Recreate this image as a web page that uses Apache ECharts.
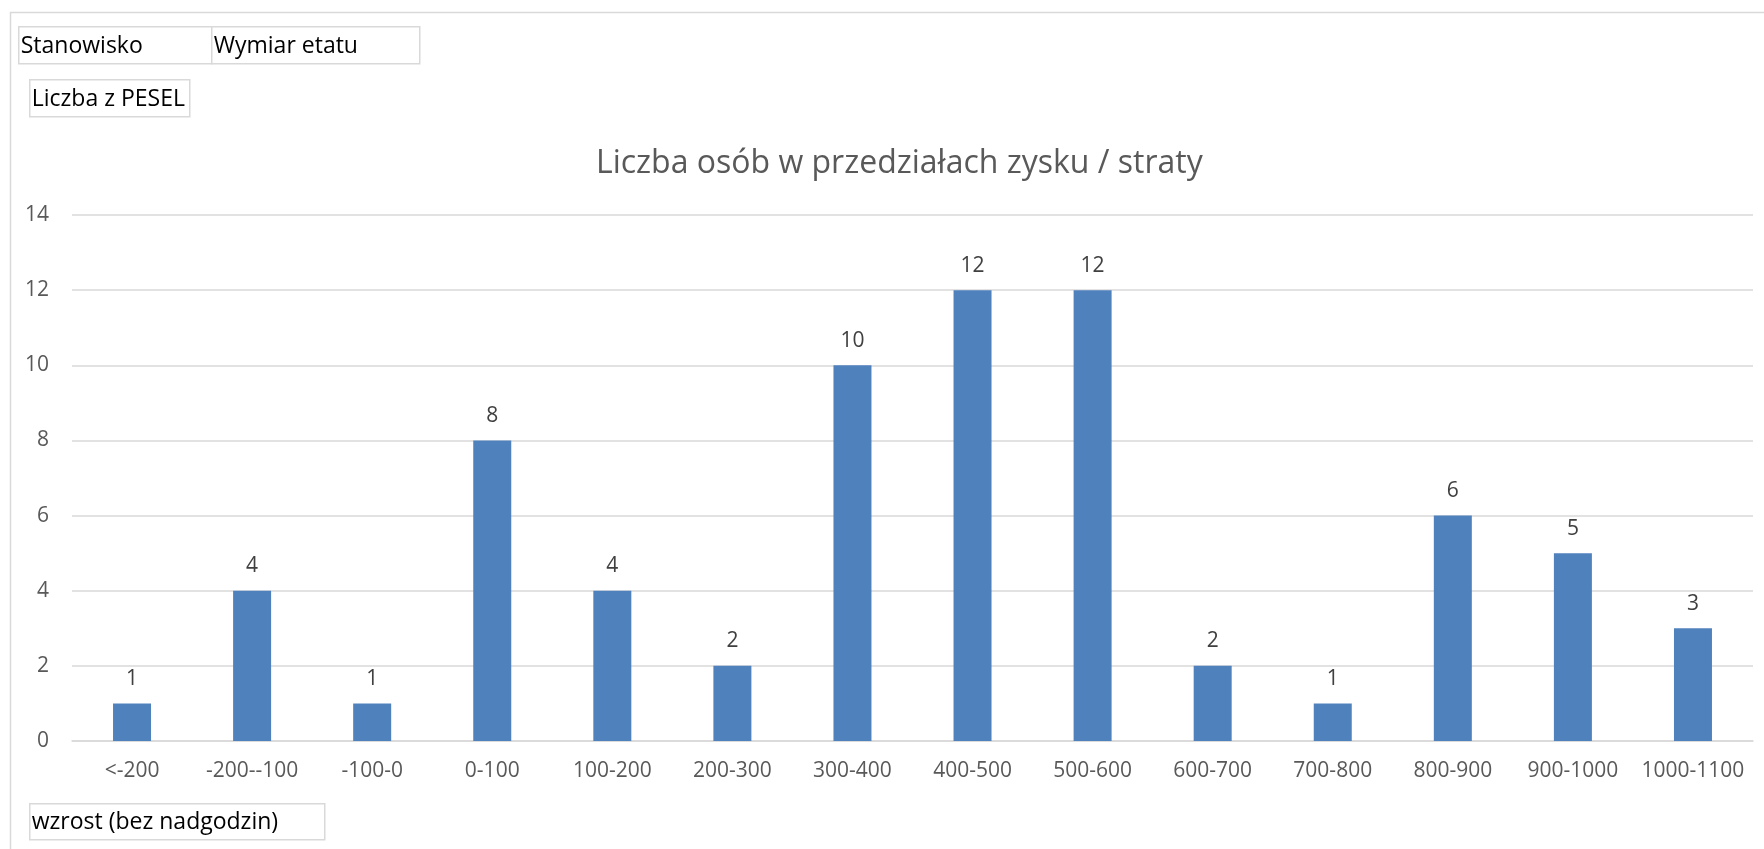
<!DOCTYPE html>
<html>
<head>
<meta charset="utf-8">
<script src="https://cdn.jsdelivr.net/npm/echarts@6/dist/echarts.min.js"></script>
<style>
  html, body { margin: 0; padding: 0; background: #fff; }
  #chart { width: 1764px; height: 849px; }
</style>
</head>
<body>
<div id="chart"></div>
<script>
// data
const categories = ['<-200', '-200--100', '-100-0', '0-100', '100-200', '200-300', '300-400',
  '400-500', '500-600', '600-700', '700-800', '800-900', '900-1000', '1000-1100']
const counts = [1, 4, 1, 8, 4, 2, 10, 12, 12, 2, 1, 6, 5, 3]
const yTicks = { min: 0, max: 14, interval: 2 }

const titleText = 'Liczba osób w przedziałach zysku / straty'
const filterButtons = ['Stanowisko', 'Wymiar etatu']
const valueButton = 'Liczba z PESEL'
const axisButton = 'wzrost (bez nadgodzin)'

const font = '"Open Sans", "Noto Sans", sans-serif'

// pivot-chart style field buttons
const fieldButton = (x, y, w, h, text) => ({
  type: 'group',
  left: x,
  top: y,
  children: [
    {
      type: 'rect',
      shape: { x: 0, y: 0, width: w, height: h },
      style: { fill: '#fff', stroke: '#d9d9d9', lineWidth: 1.5 }
    },
    {
      type: 'text',
      x: 2,
      y: h / 2 + 1,
      style: {
        text: text,
        fill: '#000',
        font: '23px ' + font,
        verticalAlign: 'middle'
      }
    }
  ]
})

const chart = echarts.init(document.getElementById('chart'))

const option = {
  backgroundColor: '#fff',
  animation: false,
  title: {
    text: titleText,
    left: 591,
    top: 143,
    textStyle: { color: '#595959', fontSize: 32, fontWeight: 'normal', fontFamily: font }
  },
  grid: { left: 72, right: 11, top: 215, bottom: 108, containLabel: false },
  xAxis: {
    type: 'category',
    data: categories,
    axisLine: { lineStyle: { color: '#d9d9d9', width: 1.5 } },
    axisTick: { show: false },
    axisLabel: { color: '#595959', fontSize: 21, fontFamily: font, margin: 20, interval: 0 }
  },
  yAxis: {
    type: 'value',
    min: yTicks.min,
    max: yTicks.max,
    interval: yTicks.interval,
    axisLine: { show: false },
    axisTick: { show: false },
    axisLabel: { color: '#595959', fontSize: 21, fontFamily: font, margin: 23 },
    splitLine: { lineStyle: { color: '#d9d9d9', width: 1.5 } }
  },
  series: [
    {
      type: 'bar',
      data: counts,
      barWidth: 38,
      itemStyle: { color: '#4f81bd' },
      label: {
        show: true,
        position: 'top',
        distance: 14,
        color: '#404040',
        fontSize: 21,
        fontFamily: font
      }
    }
  ],
  graphic: [
    {
      type: 'rect',
      left: 8,
      top: 10,
      shape: { x: 0, y: 0, width: 1820, height: 900 },
      style: { fill: 'none', stroke: '#d9d9d9', lineWidth: 1.5 },
      z: -1
    },
    fieldButton(18, 26, 193, 37, filterButtons[0]),
    fieldButton(211, 26, 208, 37, filterButtons[1]),
    fieldButton(29, 79, 160, 37, valueButton),
    fieldButton(29, 803, 295, 36, axisButton)
  ]
}

chart.setOption(option)
window.addEventListener('resize', () => chart.resize())
</script>
</body>
</html>
